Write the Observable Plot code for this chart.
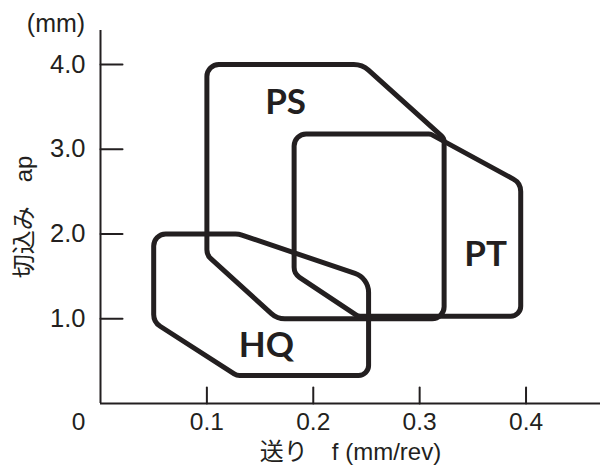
<!DOCTYPE html>
<html><head><meta charset="utf-8">
<script src="https://cdn.jsdelivr.net/npm/d3@7"></script>
<script src="https://cdn.jsdelivr.net/npm/@observablehq/plot@0.6"></script>
<style>body{margin:0;background:#fff}</style>
</head><body><div id="chart"></div>
<script>
// Region outlines: feed f (mm/rev) and depth of cut ap (mm) at each corner
const psF  = [0.100, 0.246, 0.323, 0.323, 0.166, 0.100];
const psAp = [4.00, 4.00, 3.13, 1.00, 1.00, 1.75];
const ptF  = [0.182, 0.310, 0.395, 0.395, 0.242, 0.182];
const ptAp = [3.18, 3.18, 2.60, 1.03, 1.03, 1.53];
const hqF  = [0.050, 0.130, 0.252, 0.252, 0.128, 0.050];
const hqAp = [2.00, 2.00, 1.48, 0.33, 0.33, 0.96];

const labels  = ["PS", "PT", "HQ"];
const labelF  = [0.174, 0.362, 0.156];
const labelAp = [3.55, 1.75, 0.68];

const xTicks = [0.1, 0.2, 0.3, 0.4];
const xTickLabels = ["0.1", "0.2", "0.3", "0.4"];
const yTicks = [1, 2, 3, 4];
const yTickLabels = ["1.0", "2.0", "3.0", "4.0"];

// corner rounding (pixels) – styling only
const psR = [12, 22, 8, 12, 20, 12];
const ptR = [12, 6, 14, 10, 8, 12];
const hqR = [12, 20, 20, 10, 10, 14];

const ink = "#231f20";
const font = "'Liberation Sans', Arial, 'Noto Sans CJK JP', sans-serif";
const labelFont = "Lato, 'Liberation Sans', Arial, sans-serif";

function roundedClosed(radii) {
  return function(context) {
    let pts = [];
    return {
      areaStart() {}, areaEnd() {},
      lineStart() { pts = []; },
      point(x, y) { pts.push([+x, +y]); },
      lineEnd() {
        const n = pts.length;
        if (n < 3) return;
        const a = pts[n - 1], b = pts[0];
        context.moveTo((a[0] + b[0]) / 2, (a[1] + b[1]) / 2);
        for (let i = 0; i < n; i++) {
          const p = pts[i], q = pts[(i + 1) % n];
          context.arcTo(p[0], p[1], q[0], q[1], radii[i] || 0);
        }
        context.closePath();
      }
    };
  };
}

// tick drawn from its anchor along the vector direction
const tickShape = {draw(context, l) { context.moveTo(0, 0); context.lineTo(0, -l); }};

const shape = (F, A) => F.map((f, i) => ({f, ap: A[i]}));
const labelData = labels.map((t, i) => ({t, f: labelF[i], ap: labelAp[i]}));
const origin = [{f: 0, ap: 0, t: "0"}];
const yTickData = yTicks.map((v, i) => ({f: 0, ap: v, t: yTickLabels[i]}));
const xTickData = xTicks.map((v, i) => ({f: v, ap: 0, t: xTickLabels[i]}));

const chart = Plot.plot({
  width: 600, height: 466,
  marginTop: 30, marginBottom: 63, marginLeft: 100, marginRight: 0,
  style: {fontFamily: font, color: ink, background: "white", overflow: "visible"},
  x: {domain: [0, 0.47], axis: null},
  y: {domain: [0, 4.4], axis: null},
  marks: [
    Plot.line(shape(psF, psAp), {x: "f", y: "ap", stroke: ink, strokeWidth: 5, curve: roundedClosed(psR)}),
    Plot.line(shape(ptF, ptAp), {x: "f", y: "ap", stroke: ink, strokeWidth: 5, curve: roundedClosed(ptR)}),
    Plot.line(shape(hqF, hqAp), {x: "f", y: "ap", stroke: ink, strokeWidth: 5, curve: roundedClosed(hqR)}),
    Plot.ruleX([0], {stroke: ink, strokeWidth: 2}),
    Plot.ruleY([0], {stroke: ink, strokeWidth: 2}),
    Plot.vector(yTickData, {x: "f", y: "ap", length: 22, rotate: 90, anchor: "start", shape: tickShape, stroke: ink, strokeWidth: 2}),
    Plot.vector(xTickData, {x: "f", y: "ap", length: 16, rotate: 0, anchor: "start", shape: tickShape, stroke: ink, strokeWidth: 2}),
    Plot.text(yTickData, {x: "f", y: "ap", text: "t", textAnchor: "end", dx: -15, fontSize: 25.5, fill: ink}),
    Plot.text(xTickData, {x: "f", y: "ap", text: "t", dy: 18.5, fontSize: 24.5, fill: ink}),
    Plot.text(origin, {x: "f", y: "ap", text: "t", dx: -22, dy: 18.5, fontSize: 24.5, fill: ink}),
    Plot.text(labelData, {x: "f", y: "ap", text: "t", fontSize: 35, fontWeight: "bold", fontFamily: labelFont, fill: ink}),
    Plot.text(["送り\u3000f (mm/rev)"], {frameAnchor: "bottom", textAnchor: "middle", lineAnchor: "middle", dy: 49, fontSize: 24, fill: ink}),
    Plot.text(["切込み\u3000ap"], {frameAnchor: "left", textAnchor: "middle", lineAnchor: "middle", dx: -76, rotate: -90, fontSize: 24, fill: ink}),
    Plot.text(["(mm)"], {frameAnchor: "top-left", textAnchor: "middle", lineAnchor: "middle", dx: -44.5, dy: -7, fontSize: 25, fill: ink})
  ]
});
document.getElementById("chart").appendChild(chart);
</script>
</body></html>
